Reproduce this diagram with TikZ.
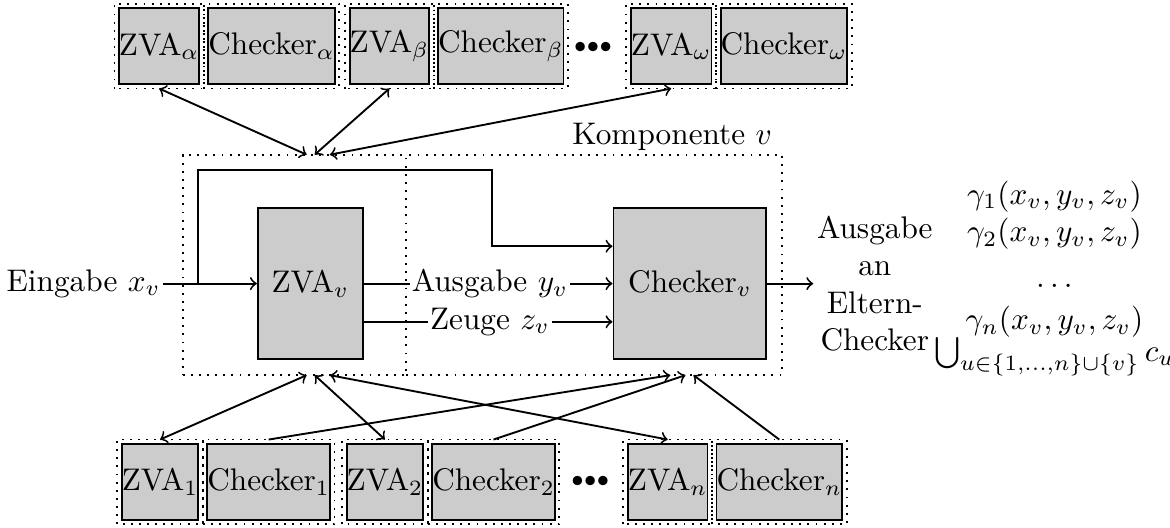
\documentclass[tikz,border=0pt]{standalone}
\usepackage{tikz}
\usepackage{xcolor}
\usetikzlibrary{positioning}
\colorlet{LightGray}{gray!40}
\tikzstyle{unitBlock}=[draw, semithick, fill=LightGray, inner sep=0pt, outer sep=1.45pt, minimum height=0.85cm]
\tikzstyle{mainBlock}=[draw, semithick, fill=LightGray, inner sep=0pt, minimum height=1.7cm]
\tikzstyle{compFrame}=[draw, dotted, semithick, inner sep=0pt, minimum height=2.475cm]
\tikzstyle{labelNode}=[inner sep=0.5pt]
\tikzstyle{dataFlow}=[->, semithick]
\tikzstyle{syncFlow}=[<->, semithick]

\begin{document}
\begin{tikzpicture}
        \useasboundingbox (0,0) rectangle (13.16,-5.93);

        % Komponente v
        \node[compFrame, minimum width=2.51cm] (fl) at (3.31,-2.98) {};
        \node[compFrame, minimum width=4.23cm] (fr) at (6.68,-2.98) {};
        \node[labelNode] (komp) at (7.56,-1.54) {Komponente $v$};

        \node[mainBlock, minimum width=1.18cm] (zv) at (3.49,-3.19) {ZVA$_v$};
        \node[mainBlock, minimum width=1.72cm] (cv) at (7.76,-3.19) {Checker$_v$};

        \node[labelNode, anchor=east] (ein) at (1.83,-3.19) {Eingabe $x_v$};
        \node[labelNode] (ay) at (5.51,-3.19) {Ausgabe $y_v$};
        \node[labelNode] (zg) at (5.51,-3.62) {Zeuge $z_v$};
        \coordinate (bend) at (5.535,-1.91);

        \draw[dataFlow] (ein.east) to (zv.west);
        \draw[dataFlow] (ein.east) -- ++(0.4,0) |- (bend) |- ([yshift=0.42cm]cv.west);
        \draw[semithick] (zv.east |- ay.west) to (ay.west);
        \draw[dataFlow] (ay.east) to (cv.west |- ay.east);
        \draw[semithick] (zv.east |- zg.west) to (zg.west);
        \draw[dataFlow] (zg.east) to (cv.west |- zg.east);

        % Ausgabe an Eltern-Checker
        \node[align=center, inner sep=1pt] (out) at (9.84,-3.19) {Ausgabe\\an\\Eltern-\\Checker};
        \draw[dataFlow] (cv.east) to (out.west);
        \node[align=center, inner sep=0pt] (gam) at (11.86,-3.13) {$\gamma_1(x_v,y_v,z_v)$\\ $\gamma_2(x_v,y_v,z_v)$\\[1mm] $\dots$\\[0.5mm] $\gamma_n(x_v,y_v,z_v)$\\[-2pt] $\bigcup_{u\in\{1,\dots,n\}\cup\{v\}} c_u$};

        % Eltern (oben)
        \node[unitBlock] (za) at (1.79,-0.52) {ZVA$_\alpha$};
        \node[unitBlock, right=0pt of za] (ca) {Checker$_\alpha$};
        \node[unitBlock] (zb) at (4.38,-0.52) {ZVA$_\beta$};
        \node[unitBlock, right=0pt of zb] (cb) {Checker$_\beta$};
        \node[labelNode] (dt) at (6.67,-0.53) {\scriptsize${\bullet}{\bullet}{\bullet}$};
        \node[unitBlock] (zw) at (7.55,-0.52) {ZVA$_\omega$};
        \node[unitBlock, right=0pt of zw] (cw) {Checker$_\omega$};

        % Kinder (unten)
        \node[unitBlock] (z1) at (1.80,-5.42) {ZVA$_1$};
        \node[unitBlock, right=0pt of z1] (c1) {Checker$_1$};
        \node[unitBlock] (z2) at (4.33,-5.42) {ZVA$_2$};
        \node[unitBlock, right=0pt of z2] (c2) {Checker$_2$};
        \node[labelNode] (db) at (6.64,-5.42) {\scriptsize${\bullet}{\bullet}{\bullet}$};
        \node[unitBlock] (zn) at (7.51,-5.42) {ZVA$_n$};
        \node[unitBlock, right=0pt of zn] (cn) {Checker$_n$};

        \foreach \n in {za,ca,zb,cb,zw,cw,z1,c1,z2,c2,zn,cn}
            \draw[dotted, semithick] (\n.south west) rectangle (\n.north east);

        \coordinate (ta) at (3.45,-1.74);
        \coordinate (tb) at (3.54,-1.74);
        \coordinate (tw) at (3.71,-1.74);
        \coordinate (ba) at (3.45,-4.22);
        \coordinate (bb) at (3.54,-4.22);
        \coordinate (bn) at (3.71,-4.22);
        \coordinate (ra) at (7.54,-4.22);
        \coordinate (rb) at (7.71,-4.22);
        \coordinate (rn) at (7.80,-4.22);

        \draw[syncFlow] (za.south) to (ta);
        \draw[syncFlow] (zb.south) to (tb);
        \draw[syncFlow] (zw.south) to (tw);

        \draw[syncFlow] (z1.north) to (ba);
        \draw[syncFlow] (z2.north) to (bb);
        \draw[syncFlow] (zn.north) to (bn);
        \draw[dataFlow] (c1.north) to (ra);
        \draw[dataFlow] (c2.north) to (rb);
        \draw[dataFlow] (cn.north) to (rn);

    \end{tikzpicture}
\end{document}
